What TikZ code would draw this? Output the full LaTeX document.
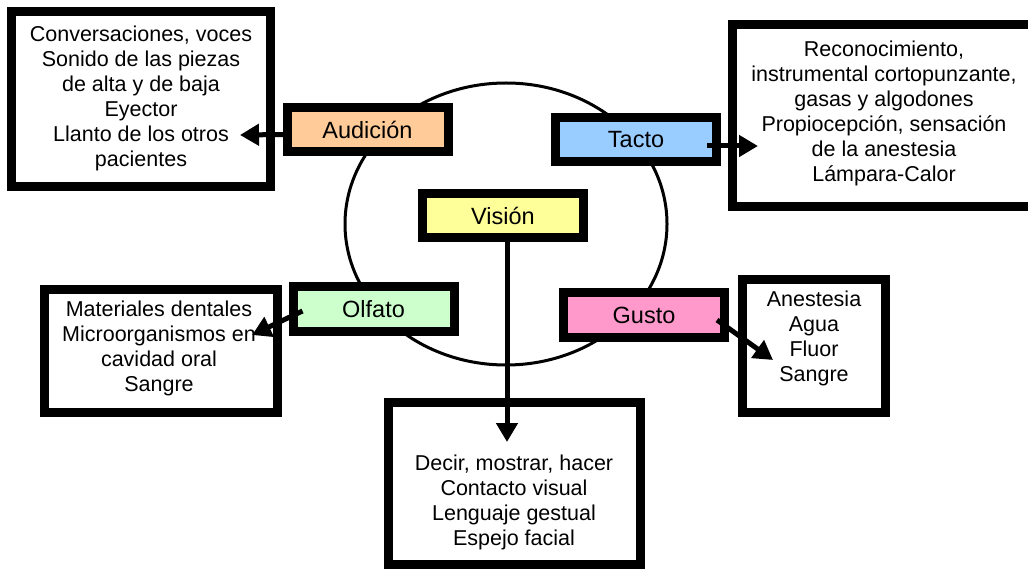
\documentclass[tikz,border=0pt]{standalone}
\usepackage{fontspec}
\setmainfont{Liberation Sans}
\usetikzlibrary{arrows.meta}
\definecolor{peach}{HTML}{FFCC99}
\definecolor{skyb}{HTML}{99CCFF}
\definecolor{mint}{HTML}{CCFFCC}
\definecolor{rosa}{HTML}{FF99CC}
\definecolor{lemon}{HTML}{FFFF99}
\begin{document}
\begin{tikzpicture}[x=1pt,y=-1pt,
  sense/.style={draw,line width=9pt,inner sep=0pt,minimum width=161pt,minimum height=44pt,font=\fontsize{23.5}{28}\selectfont},
  listbox/.style={draw,line width=9pt,inner sep=0pt},
  listtxt/.style={align=center,inner sep=0pt,font=\fontsize{21.5}{25}\selectfont},
  arr/.style={line width=5pt,-{Triangle[length=19pt,width=21pt]}}]
\useasboundingbox (0,0) rectangle (1028,569);
\clip (0,0) rectangle (1028,569);
% circle behind the senses
\draw[line width=3pt] (506,224) ellipse [x radius=161, y radius=141];
% lists
\node[listbox,minimum width=259pt,minimum height=175pt] (audbox) at (140.5,99) {};
\node[listtxt] (audtxt) at (141,98) {Conversaciones, voces\\Sonido de las piezas\\de alta y de baja\\Eyector\\Llanto de los otros\\pacientes};
\node[listbox,minimum width=304pt,minimum height=182pt] (tacbox) at (884,116) {};
\node[listtxt] (tactxt) at (884,113) {Reconocimiento,\\instrumental cortopunzante,\\gasas y algodones\\Propiocepción, sensación\\de la anestesia\\Lámpara-Calor};
\node[listbox,minimum width=233pt,minimum height=123pt] (olfbox) at (161,351) {};
\node[listtxt] (olftxt) at (159,348) {Materiales dentales\\Microorganismos en\\cavidad oral\\Sangre};
\node[listbox,minimum width=143pt,minimum height=133pt] (gusbox) at (814,346) {};
\node[listtxt] (gustxt) at (814,338) {Anestesia\\Agua\\Fluor\\Sangre};
\node[listbox,minimum width=252pt,minimum height=162pt] (visbox) at (514.5,483.5) {};
\node[listtxt] (vistxt) at (514,502) {Decir, mostrar, hacer\\Contacto visual\\Lenguaje gestual\\Espejo facial};
% senses
\node[sense,fill=peach] (audicion) at (367.5,129.5) {Audición};
\node[sense,fill=skyb] (tacto) at (636,140) {Tacto};
\node[sense,fill=mint] (olfato) at (373.5,309) {Olfato};
\node[sense,fill=rosa] (gusto) at (644,315) {Gusto};
\node[sense,fill=lemon] (vision) at (503,215.5) {Visión};
% arrows
\coordinate (audtip) at (240,135);
\coordinate (tactip) at (758,146);
\coordinate (olftip) at (252,335);
\coordinate (gustip) at (773,360);
\coordinate (vistip) at (507,442);
\draw[arr] ([shift={(3,5)}]audicion.west) -- (audtip);
\draw[arr] ([shift={(-14,6)}]tacto.east) -- (tactip);
\draw[arr] ([shift={(14,2)}]olfato.west) -- (olftip);
\draw[arr] ([shift={(-12,5)}]gusto.east) -- (gustip);
\draw[arr] ([xshift=4]vision.south) -- (vistip);
\end{tikzpicture}
\end{document}
